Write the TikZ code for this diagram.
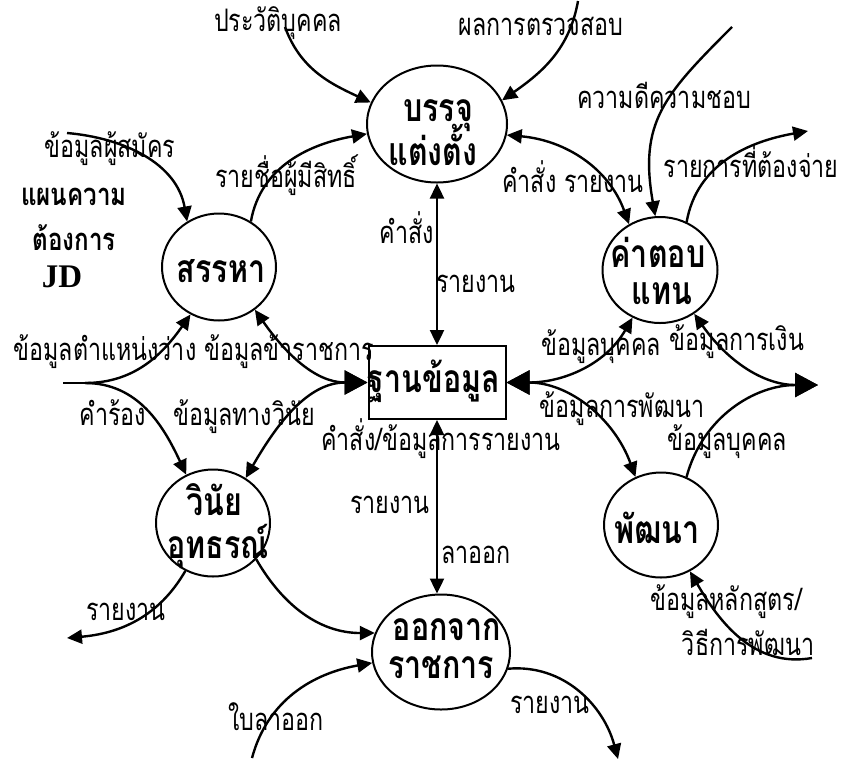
\documentclass[tikz,border=0pt]{standalone}
\usepackage{fontspec}
\setmainfont{Liberation Serif}
\newfontfamily\thai[Script=Thai,FakeStretch=0.75]{Loma}
\newfontfamily\thaib[Script=Thai,FakeStretch=0.78]{Loma}
\usetikzlibrary{arrows.meta,shapes.geometric}

\tikzset{
  sm/.tip={Triangle[length=15pt,width=14pt]},
  bg/.tip={Triangle[length=23pt,width=24pt]},
  flow/.style={line width=2.4pt},
  proc/.style={ellipse,draw,line width=2pt,inner sep=0pt},
  store/.style={rectangle,draw,line width=2pt,inner sep=0pt},
  lbl/.style={font=\thai\fontsize{31}{35}\selectfont,anchor=base,inner sep=0pt},
  ttl/.style={font=\thaib\bfseries\fontsize{39}{43}\selectfont,anchor=base,inner sep=0pt},
  note/.style={font=\thaib\bfseries\fontsize{31}{35}\selectfont,anchor=base,inner sep=0pt},
}

\begin{document}
\begin{tikzpicture}[x=1pt,y=1pt]
\useasboundingbox[fill=white] (0,0) rectangle (856,-761);

% processes and data store
\node[proc,minimum width=140pt,minimum height=117pt] (bj) at (437,-124) {};
\node[proc,minimum width=114pt,minimum height=107pt] (sa) at (219,-267) {};
\node[proc,minimum width=115pt,minimum height=106pt] (kt) at (660,-270) {};
\node[store,minimum width=137pt,minimum height=73pt] (db) at (437,-382.5) {};
\node[proc,minimum width=114pt,minimum height=107pt] (vn) at (213,-523) {};
\node[proc,minimum width=138pt,minimum height=115pt] (ok) at (441,-652) {};
\node[proc,minimum width=114pt,minimum height=105pt] (pt) at (661,-525) {};

% process titles
\node[ttl] (bj1) at (438,-121) {บรรจุ};
\node[ttl] (bj2) at (433,-165) {แต่งตั้ง};
\node[ttl] (sa1) at (221,-282) {สรรหา};
\node[ttl] (kt1) at (658,-267) {ค่าตอบ};
\node[ttl] (kt2) at (662,-304) {แทน};
\node[ttl] (db1) at (434,-392) {ฐานข้อมูล};
\node[ttl] (vn1) at (214,-515) {วินัย};
\node[ttl] (vn2) at (218,-558) {อุทธรณ์};
\node[ttl] (ok1) at (447,-640) {ออกจาก};
\node[ttl] (ok2) at (441,-678) {ราชการ};
\node[ttl] (pt1) at (657,-543) {พัฒนา};

% side note
\node[note] (jd1) at (74,-205) {แผนความ};
\node[note] (jd2) at (74,-250) {ต้องการ};
\node[anchor=base,inner sep=0pt,font=\bfseries\fontsize{33}{37}\selectfont] (jd3) at (62,-287) {JD};

% free ends of the flows
\coordinate (in1) at (285,-27);
\coordinate (in2) at (578,-1);
\coordinate (in3) at (67,-133);
\coordinate (in4) at (732,-27);
\coordinate (out1) at (808,-131);
\coordinate (lf) at (63,-383);
\coordinate (lf2) at (85,-383);
\coordinate (rt) at (818,-385);
\coordinate (out2) at (67,-638);
\coordinate (in5) at (252,-758);
\coordinate (out3) at (618,-759);
\coordinate (in6) at (812,-658);

% flows
\draw[flow,-{sm}] (in1) to[out=290,in=155] (bj.162);
\draw[flow,-{sm}] (in2) to[out=260,in=35] (bj.20);
\draw[flow,-{sm}] (sa.55) to[out=80,in=190] (bj.188);
\draw[flow,-{sm}] (in3) to[out=-5,in=100] (sa.125);
\draw[flow,{sm}-{sm}] (bj.351) to[out=-5,in=110] (kt.124);
\draw[flow,-{sm}] (in4) to[out=225,in=100,looseness=1.2] (kt.95);
\draw[flow,-{sm}] (kt.61) to[out=80,in=190] (out1);
\draw[flow,{sm}-{sm}] (bj.south) -- (db.north);

\draw[flow] (lf) -- (lf2);
\draw[flow,-{sm}] (lf2) to[out=0,in=235] (sa.239);
\draw[flow,-{sm}] (lf2) to[out=0,in=115] (vn.119);
\draw[flow,{sm}-{bg}] (sa.310) to[out=305,in=180] (db.west);
\draw[flow,{sm}-{bg}] (vn.54) to[out=60,in=180] (db.west);

\draw[flow,{bg}-{sm}] (db.east) to[out=0,in=240] (kt.240);
\draw[flow,{bg}-{sm}] (db.east) to[out=0,in=110] (pt.118);
\draw[flow,{sm}-{bg}] (kt.308) to[out=305,in=180] (rt);
\draw[flow,-{bg}] (pt.62) to[out=75,in=180] (rt);

\draw[flow,{sm}-{sm}] (db.south) -- (ok.north -| db.south);
\draw[flow,-{sm}] (vn.240) to[out=240,in=5] (out2);
\draw[flow,-{sm}] (vn.320) to[out=300,in=180] (ok.164);
\draw[flow,-{sm}] (in5) to[out=75,in=190] (ok.189);
\draw[flow,-{sm}] (ok.346) to[out=5,in=105] (out3);
\draw[flow,-{sm}] (in6) to[out=190,in=300] (pt.302);

% flow labels
\node[lbl] (l1) at (278,-31) {ประวัติบุคคล};
\node[lbl] (l2) at (541,-35) {ผลการตรวจสอบ};
\node[lbl] (l3) at (664,-108) {ความดีความชอบ};
\node[lbl] (l4) at (751,-177) {รายการที่ต้องจ่าย};
\node[lbl] (l5) at (573,-192) {คำสั่ง รายงาน};
\node[lbl] (l6) at (110,-157) {ข้อมูลผู้สมัคร};
\node[lbl] (l7) at (286,-187) {รายชื่อผู้มีสิทธิ์};
\node[lbl] (l8) at (407,-243) {คำสั่ง};
\node[lbl] (l9) at (476,-292) {รายงาน};
\node[lbl] (l10) at (105,-360) {ข้อมูลตำแหน่งว่าง};
\node[lbl] (l11) at (289,-360) {ข้อมูลข้าราชการ};
\node[lbl] (l12) at (113,-425) {คำร้อง};
\node[lbl] (l13) at (244,-425) {ข้อมูลทางวินัย};
\node[lbl] (l14) at (441,-450) {คำสั่ง/ข้อมูลการรายงาน};
\node[lbl] (l15) at (390,-513) {รายงาน};
\node[lbl] (l16) at (476,-563) {ลาออก};
\node[lbl] (l17) at (601,-355) {ข้อมูลบุคคล};
\node[lbl] (l18) at (737,-350) {ข้อมูลการเงิน};
\node[lbl] (l19) at (622,-417) {ข้อมูลการพัฒนา};
\node[lbl] (l20) at (727,-450) {ข้อมูลบุคคล};
\node[lbl] (l21) at (126,-620) {รายงาน};
\node[lbl] (l22) at (276,-730) {ใบลาออก};
\node[lbl] (l23) at (550,-713) {รายงาน};
\node[lbl] (l24) at (726,-610) {ข้อมูลหลักสูตร/};
\node[lbl] (l25) at (748,-655) {วิธีการพัฒนา};
\end{tikzpicture}
\end{document}
